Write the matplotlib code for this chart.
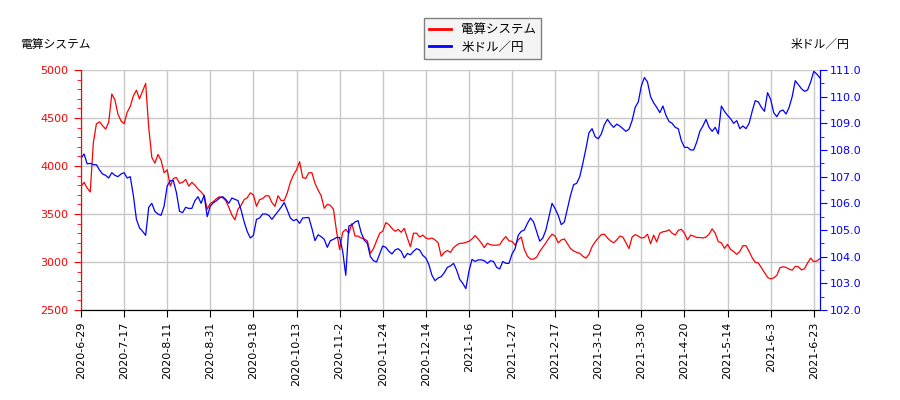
import matplotlib
matplotlib.use("Agg")
import matplotlib.pyplot as plt
from matplotlib.ticker import MultipleLocator, FormatStrFormatter
import numpy as np

plt.rcParams['font.family'] = ['DejaVu Sans']
JP = ['Noto Sans CJK JP', 'DejaVu Sans']

tick_labels = ["2020-6-29", "2020-7-17", "2020-8-11", "2020-8-31", "2020-9-18",
               "2020-10-13", "2020-11-2", "2020-11-24", "2020-12-14", "2021-1-6",
               "2021-1-27", "2021-2-17", "2021-3-10", "2021-3-30", "2021-4-20",
               "2021-5-14", "2021-6-3", "2021-6-23"]
tick_step = 14

densan = [
    3790, 3830, 3770, 3730, 4240, 4440, 4460, 4420, 4385, 4455,
    4750, 4690, 4540, 4470, 4440, 4560, 4620, 4730, 4790, 4700,
    4780, 4860, 4400, 4090, 4030, 4120, 4060, 3930, 3960, 3790,
    3870, 3880, 3820, 3830, 3860, 3790, 3830, 3800, 3760, 3730,
    3690, 3550, 3610, 3630, 3660, 3680, 3670, 3640, 3570, 3490,
    3440, 3550, 3590, 3650, 3670, 3720, 3700, 3580, 3650, 3660,
    3690, 3690, 3620, 3580, 3690, 3640, 3640, 3720, 3830, 3906,
    3960, 4045, 3880, 3870, 3930, 3930, 3820, 3750, 3690, 3560,
    3600, 3590, 3550, 3320, 3130, 3310, 3340, 3300, 3400, 3270,
    3270, 3250, 3240, 3220, 3090, 3140, 3220, 3300, 3320, 3410,
    3390, 3350, 3320, 3340, 3310, 3350, 3250, 3160, 3300, 3300,
    3260, 3280, 3250, 3240, 3250, 3230, 3200, 3060, 3100, 3120,
    3100, 3150, 3175, 3195, 3195, 3205, 3215, 3240, 3275, 3240,
    3200, 3150, 3195, 3180, 3175, 3175, 3180, 3230, 3265, 3220,
    3215, 3175, 3230, 3260, 3130, 3060, 3030, 3030, 3050, 3110,
    3155, 3200, 3250, 3290, 3270, 3200, 3230, 3240, 3190, 3140,
    3115, 3100, 3090, 3060, 3040, 3080, 3160, 3210, 3250, 3285,
    3290, 3250, 3220, 3200, 3230, 3270, 3260, 3200, 3140, 3260,
    3285, 3270, 3250, 3255, 3290, 3190, 3280, 3210, 3300, 3315,
    3320, 3335, 3300, 3280, 3330, 3340, 3300, 3230, 3280, 3270,
    3255, 3255, 3250, 3260, 3290, 3345, 3300, 3212, 3200, 3142,
    3184, 3130, 3108, 3080, 3110, 3170, 3170, 3110, 3045, 2997,
    2990, 2940, 2890, 2840, 2823, 2835, 2860, 2940, 2950, 2945,
    2925, 2915, 2955, 2950, 2917, 2930, 2990, 3040, 3005, 3010,
    3035]

usdjpy = [
    107.69, 107.85, 107.48, 107.50, 107.45, 107.45, 107.25, 107.10, 107.05, 106.95,
    107.15, 107.05, 107.00, 107.10, 107.15, 106.95, 107.00, 106.30, 105.40, 105.08,
    104.95, 104.80, 105.85, 106.00, 105.70, 105.60, 105.55, 105.90, 106.65, 106.85,
    106.85, 106.40, 105.70, 105.65, 105.85, 105.81, 105.81, 106.10, 106.25, 106.00,
    106.30, 105.50, 105.90, 106.02, 106.10, 106.20, 106.25, 106.15, 106.00, 106.20,
    106.15, 106.10, 105.75, 105.30, 104.94, 104.70, 104.80, 105.40, 105.45, 105.60,
    105.60, 105.55, 105.40, 105.55, 105.70, 105.85, 106.03, 105.75, 105.45, 105.35,
    105.40, 105.25, 105.45, 105.46, 105.47, 105.06, 104.60, 104.82, 104.75, 104.65,
    104.35, 104.60, 104.65, 104.72, 104.72, 104.20, 103.30, 105.15, 105.20, 105.30,
    105.35, 104.90, 104.62, 104.50, 104.00, 103.85, 103.80, 104.10, 104.40, 104.35,
    104.20, 104.10, 104.25, 104.30, 104.20, 103.95, 104.12, 104.07, 104.20, 104.30,
    104.25, 104.05, 103.95, 103.70, 103.30, 103.10, 103.20, 103.25, 103.40, 103.60,
    103.65, 103.75, 103.50, 103.15, 103.00, 102.80, 103.45, 103.90, 103.82, 103.88,
    103.88, 103.85, 103.75, 103.85, 103.82, 103.60, 103.54, 103.82, 103.75, 103.75,
    104.10, 104.30, 104.80, 104.95, 105.00, 105.25, 105.45, 105.30, 104.94, 104.58,
    104.70, 105.00, 105.50, 106.00, 105.80, 105.55, 105.20, 105.30, 105.80, 106.30,
    106.70, 106.75, 107.00, 107.50, 108.05, 108.65, 108.80, 108.50, 108.42, 108.60,
    108.95, 109.15, 108.98, 108.85, 108.97, 108.90, 108.80, 108.70, 108.78, 109.10,
    109.60, 109.80, 110.40, 110.72, 110.55, 110.00, 109.77, 109.60, 109.40, 109.65,
    109.30, 109.07, 109.00, 108.85, 108.80, 108.35, 108.10, 108.10, 108.00, 108.00,
    108.30, 108.70, 108.90, 109.15, 108.85, 108.70, 108.85, 108.60, 109.65, 109.45,
    109.30, 109.17, 109.00, 109.10, 108.80, 108.90, 108.80, 109.00, 109.45, 109.85,
    109.80, 109.60, 109.45, 110.15, 109.90, 109.40, 109.25, 109.45, 109.50, 109.35,
    109.60, 110.00, 110.60, 110.45, 110.30, 110.20, 110.25, 110.55, 110.95, 110.85,
    110.70]

name1 = "電算システム"
name2 = "米ドル／円"

x = np.arange(len(densan))

fig = plt.figure(figsize=(9, 4), dpi=100)
ax = fig.add_axes([0.09, 0.225, 0.821, 0.60])
ax2 = ax.twinx()

l1, = ax.plot(x, densan, color='#ff0000', lw=0.9, label=name1)
l2, = ax2.plot(x, usdjpy, color='#0000ff', lw=0.9, label=name2)

ax.set_xlim(0, len(densan) - 1)
ax.set_ylim(2500, 5000)
ax2.set_ylim(102, 111)

ax.set_xticks(np.arange(len(tick_labels)) * tick_step)
ax.set_xticklabels(tick_labels, rotation=90, fontsize=8)
ax.yaxis.set_major_locator(MultipleLocator(500))
ax.yaxis.set_minor_locator(MultipleLocator(100))
ax2.yaxis.set_major_locator(MultipleLocator(1))
ax2.yaxis.set_minor_locator(MultipleLocator(0.5))
ax2.yaxis.set_major_formatter(FormatStrFormatter('%.1f'))

ax.grid(True, which='major', color='#c8c8c8', lw=1)
ax.set_axisbelow(True)

ax.tick_params(axis='y', which='both', colors='#ff0000', labelsize=8)
ax.tick_params(axis='y', which='major', length=5, pad=4)
ax.tick_params(axis='y', which='minor', length=3)
ax2.tick_params(axis='y', which='both', colors='#0000ff', labelsize=8)
ax2.tick_params(axis='y', which='major', length=5, pad=2.5)
ax2.tick_params(axis='y', which='minor', length=3)
ax.tick_params(axis='x', length=5, colors='black')

for a in (ax, ax2):
    a.spines['top'].set_visible(False)
    a.spines['left'].set_color('#ff0000')
    a.spines['right'].set_color('#0000ff')
    a.spines['bottom'].set_color('black')

fig.text(0.062, 0.888, name1, ha='center', va='center', fontsize=8.5, family=JP)
fig.text(0.911, 0.888, name2, ha='center', va='center', fontsize=8.5, family=JP)

leg = fig.legend([l1, l2], [name1, name2], loc='upper center',
                 bbox_to_anchor=(0.536, 0.97), prop={'family': JP, 'size': 9},
                 fancybox=False, edgecolor='#808080', facecolor='#f4f4f4',
                 framealpha=1, handlelength=1.8, borderpad=0.4, labelspacing=0.35)
for line in leg.get_lines():
    line.set_linewidth(2)

fig.savefig("out.png", dpi=100)
